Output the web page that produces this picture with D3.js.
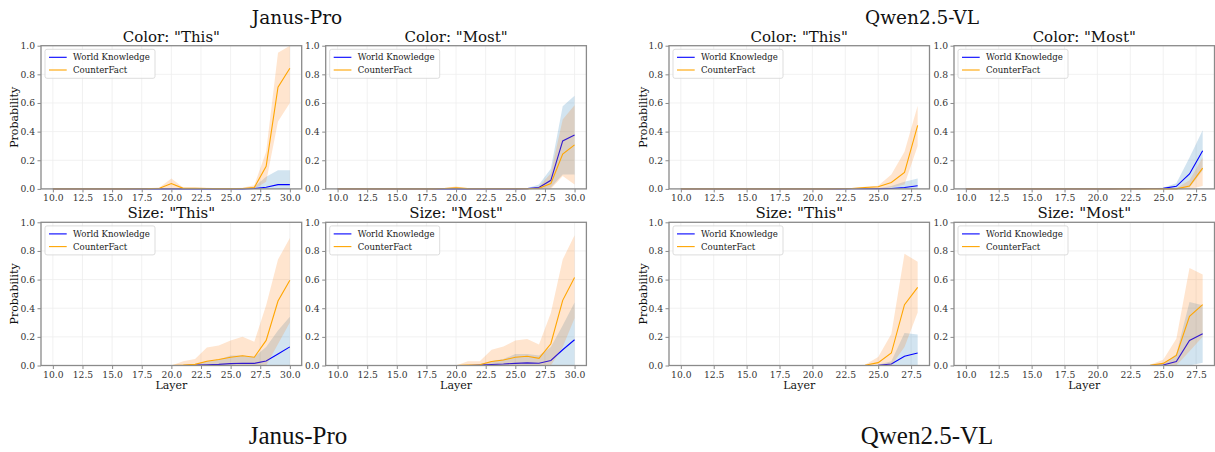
<!DOCTYPE html>
<html>
<head>
<meta charset="utf-8">
<script src="https://cdn.jsdelivr.net/npm/d3@7"></script>
<style>
  body { margin: 0; background: #fff; }
  svg text { font-family: "DejaVu Serif", serif; }
</style>
</head>
<body>
<script>
// ---- data ----
var layersJanus = [10,11,12,13,14,15,16,17,18,19,20,21,22,23,24,25,26,27,28,29,30];
var layersQwen  = [10,11,12,13,14,15,16,17,18,19,20,21,22,23,24,25,26,27,28];
var xTicksJanus = [10,12.5,15,17.5,20,22.5,25,27.5,30];
var xTicksQwen  = [10,12.5,15,17.5,20,22.5,25,27.5];
var yTicks = [0,0.2,0.4,0.6,0.8,1.0];
var modelNames = ["Janus-Pro", "Qwen2.5-VL"];
var panelTitles = ['Color: "This"', 'Color: "Most"', 'Size: "This"', 'Size: "Most"'];
var seriesNames = ["World Knowledge", "CounterFact"];

// Janus-Pro, Color "This"
var jColorThisWK   = [0,0,0,0,0,0,0,0,0,0,0,0,0,0,0,0,0,0.003,0.012,0.03,0.03];
var jColorThisWKLo = [0,0,0,0,0,0,0,0,0,0,0,0,0,0,0,0,0,0,0,0,0];
var jColorThisWKHi = [0,0,0,0,0,0,0,0,0,0,0,0,0,0,0,0,0.002,0.015,0.085,0.13,0.13];
var jColorThisCF   = [0,0,0,0,0,0,0,0.001,0.002,0.005,0.037,0.004,0.004,0.003,0.002,0.002,0.003,0.01,0.158,0.71,0.842];
var jColorThisCFLo = [0,0,0,0,0,0,0,0,0,0,0,0,0,0,0,0,0,0,0.05,0.47,0.6];
var jColorThisCFHi = [0,0,0,0,0,0,0,0.003,0.005,0.01,0.072,0.01,0.01,0.008,0.005,0.005,0.008,0.025,0.26,0.95,1.0];
// Janus-Pro, Color "Most"
var jColorMostWK   = [0,0,0,0,0,0,0,0,0,0,0,0,0,0,0,0,0.002,0.01,0.06,0.335,0.376];
var jColorMostWKLo = [0,0,0,0,0,0,0,0,0,0,0,0,0,0,0,0,0,0,0.01,0.1,0.1];
var jColorMostWKHi = [0,0,0,0,0,0,0,0,0,0,0,0,0,0,0,0,0.005,0.03,0.14,0.577,0.65];
var jColorMostCF   = [0,0,0,0,0,0,0,0,0,0.003,0.008,0.002,0.001,0.001,0.001,0.001,0.001,0.005,0.037,0.243,0.307];
var jColorMostCFLo = [0,0,0,0,0,0,0,0,0,0,0,0,0,0,0,0,0,0,0,0.09,0.03];
var jColorMostCFHi = [0,0,0,0,0,0,0,0,0,0.006,0.016,0.005,0.003,0.003,0.003,0.003,0.003,0.015,0.11,0.485,0.585];
// Janus-Pro, Size "This"
var jSizeThisWK   = [0,0,0,0,0,0,0,0,0,0,0,0,0.003,0.005,0.008,0.013,0.016,0.015,0.032,0.08,0.13];
var jSizeThisWKLo = [0,0,0,0,0,0,0,0,0,0,0,0,0,0,0,0,0,0,0,0,0];
var jSizeThisWKHi = [0,0,0,0,0,0,0,0,0,0,0,0,0.01,0.03,0.04,0.07,0.07,0.06,0.13,0.245,0.34];
var jSizeThisCF   = [0,0,0,0,0,0,0,0,0,0,0,0.003,0.008,0.03,0.042,0.058,0.068,0.058,0.175,0.45,0.596];
var jSizeThisCFLo = [0,0,0,0,0,0,0,0,0,0,0,0,0,0,0,0,0,0,0,0.15,0.3];
var jSizeThisCFHi = [0,0,0,0,0,0,0,0,0,0,0,0.03,0.045,0.125,0.14,0.175,0.2,0.165,0.42,0.74,0.89];
// Janus-Pro, Size "Most"
var jSizeMostWK   = [0,0,0,0,0,0,0,0,0,0,0,0,0.003,0.007,0.01,0.015,0.018,0.016,0.035,0.11,0.18];
var jSizeMostWKLo = [0,0,0,0,0,0,0,0,0,0,0,0,0,0,0,0,0,0,0,0,0];
var jSizeMostWKHi = [0,0,0,0,0,0,0,0,0,0,0,0,0.01,0.03,0.045,0.08,0.08,0.07,0.13,0.28,0.44];
var jSizeMostCF   = [0,0,0,0,0,0,0,0,0,0,0,0.003,0.005,0.028,0.038,0.058,0.065,0.05,0.152,0.455,0.615];
var jSizeMostCFLo = [0,0,0,0,0,0,0,0,0,0,0,0,0,0,0,0,0,0,0,0.13,0.33];
var jSizeMostCFHi = [0,0,0,0,0,0,0,0,0,0,0,0.03,0.03,0.11,0.133,0.175,0.185,0.147,0.367,0.74,0.91];

// Qwen2.5-VL, Color "This"
var qColorThisWK   = [0,0,0,0,0,0,0,0,0,0,0,0,0,0.001,0.001,0.002,0.003,0.01,0.022];
var qColorThisWKLo = [0,0,0,0,0,0,0,0,0,0,0,0,0,0,0,0,0,0,0];
var qColorThisWKHi = [0,0,0,0,0,0,0,0,0,0,0,0,0,0,0,0.005,0.02,0.05,0.072];
var qColorThisCF   = [0,0,0,0,0,0,0,0,0,0,0,0,0.001,0.003,0.01,0.015,0.045,0.115,0.443];
var qColorThisCFLo = [0,0,0,0,0,0,0,0,0,0,0,0,0,0,0,0,0.01,0.03,0.3];
var qColorThisCFHi = [0,0,0,0,0,0,0,0,0,0,0,0,0.003,0.006,0.015,0.022,0.1,0.26,0.58];
// Qwen2.5-VL, Color "Most"
var qColorMostWK   = [0,0,0,0,0,0,0,0,0,0,0,0,0.001,0.002,0.003,0.004,0.018,0.104,0.266];
var qColorMostWKLo = [0,0,0,0,0,0,0,0,0,0,0,0,0,0,0,0,0,0.01,0.13];
var qColorMostWKHi = [0,0,0,0,0,0,0,0,0,0,0,0,0,0.004,0.005,0.008,0.04,0.22,0.41];
var qColorMostCF   = [0,0,0,0,0,0,0,0,0,0,0,0,0,0,0,0,0,0.02,0.145];
var qColorMostCFLo = [0,0,0,0,0,0,0,0,0,0,0,0,0,0,0,0,0,0,0.02];
var qColorMostCFHi = [0,0,0,0,0,0,0,0,0,0,0,0,0,0,0,0,0.005,0.06,0.22];
// Qwen2.5-VL, Size "This"
var qSizeThisWK   = [0,0,0,0,0,0,0,0,0,0,0,0,0,0,0,0.002,0.01,0.065,0.087];
var qSizeThisWKLo = [0,0,0,0,0,0,0,0,0,0,0,0,0,0,0,0,0,0,0];
var qSizeThisWKHi = [0,0,0,0,0,0,0,0,0,0,0,0,0,0,0,0.005,0.03,0.227,0.217];
var qSizeThisCF   = [0,0,0,0,0,0,0,0,0,0,0,0,0,0,0.002,0.02,0.087,0.425,0.545];
var qSizeThisCFLo = [0,0,0,0,0,0,0,0,0,0,0,0,0,0,0,0,0,0.13,0.37];
var qSizeThisCFHi = [0,0,0,0,0,0,0,0,0,0,0,0,0,0,0.005,0.06,0.22,0.78,0.725];
// Qwen2.5-VL, Size "Most"
var qSizeMostWK   = [0,0,0,0,0,0,0,0,0,0,0,0,0,0,0,0.003,0.028,0.175,0.222];
var qSizeMostWKLo = [0,0,0,0,0,0,0,0,0,0,0,0,0,0,0,0,0,0,0.02];
var qSizeMostWKHi = [0,0,0,0,0,0,0,0,0,0,0,0,0,0,0,0.01,0.08,0.444,0.42];
var qSizeMostCF   = [0,0,0,0,0,0,0,0,0,0,0,0,0,0,0.002,0.015,0.07,0.343,0.425];
var qSizeMostCFLo = [0,0,0,0,0,0,0,0,0,0,0,0,0,0,0,0,0,0.1,0.2];
var qSizeMostCFHi = [0,0,0,0,0,0,0,0,0,0,0,0,0,0,0.005,0.04,0.187,0.68,0.635];

// ---- layout ----
var W = 1215, H = 452;
var lineColors = ["blue", "orange"];
var bandColors = ["#1f77b4", "#ff7f0e"];
var spineColor = "#8a8a8a";

var groups = [
  { name: modelNames[0], layers: layersJanus, ticks: xTicksJanus, xdom: [9, 31],
    cols: [41, 325.7], w: 260.7, titleX: 297, ylabX: 14, capX: 298,
    panels: [
      [[jColorThisWK, jColorThisWKLo, jColorThisWKHi], [jColorThisCF, jColorThisCFLo, jColorThisCFHi]],
      [[jColorMostWK, jColorMostWKLo, jColorMostWKHi], [jColorMostCF, jColorMostCFLo, jColorMostCFHi]],
      [[jSizeThisWK, jSizeThisWKLo, jSizeThisWKHi], [jSizeThisCF, jSizeThisCFLo, jSizeThisCFHi]],
      [[jSizeMostWK, jSizeMostWKLo, jSizeMostWKHi], [jSizeMostCF, jSizeMostCFLo, jSizeMostCFHi]]
    ] },
  { name: modelNames[1], layers: layersQwen, ticks: xTicksQwen, xdom: [9.1, 28.9],
    cols: [669, 954], w: 260.5, titleX: 922, ylabX: 643, capX: 927,
    panels: [
      [[qColorThisWK, qColorThisWKLo, qColorThisWKHi], [qColorThisCF, qColorThisCFLo, qColorThisCFHi]],
      [[qColorMostWK, qColorMostWKLo, qColorMostWKHi], [qColorMostCF, qColorMostCFLo, qColorMostCFHi]],
      [[qSizeThisWK, qSizeThisWKLo, qSizeThisWKHi], [qSizeThisCF, qSizeThisCFLo, qSizeThisCFHi]],
      [[qSizeMostWK, qSizeMostWKLo, qSizeMostWKHi], [qSizeMostCF, qSizeMostCFLo, qSizeMostCFHi]]
    ] }
];
var rows = [45.7, 222.3];
var ph = 143.2;

var svg = d3.select("body").append("svg").attr("width", W).attr("height", H);

groups.forEach(function(g) {
  // model name above
  svg.append("text").attr("x", g.titleX).attr("y", 24)
    .attr("text-anchor", "middle").attr("font-size", "18.5px").attr("fill", "#111")
    .text(g.name);
  // caption below
  svg.append("text").attr("x", g.capX).attr("y", 444)
    .attr("text-anchor", "middle").attr("font-size", "25px").attr("fill", "#111")
    .style("font-family", "'Liberation Serif', serif")
    .text(g.name);

  g.panels.forEach(function(series, pi) {
    var col = pi % 2, row = Math.floor(pi / 2);
    var x0 = g.cols[col], y0 = rows[row];
    var x = d3.scaleLinear().domain(g.xdom).range([0, g.w]);
    var y = d3.scaleLinear().domain([0, 1]).range([ph, 0]);
    var p = svg.append("g").attr("transform", "translate(" + x0 + "," + y0 + ")");

    // grid
    p.selectAll("line.gx").data(g.ticks).enter().append("line")
      .attr("x1", function(d) { return x(d); }).attr("x2", function(d) { return x(d); })
      .attr("y1", 0).attr("y2", ph).attr("stroke", "#eeeeee").attr("stroke-width", 0.8);
    p.selectAll("line.gy").data(yTicks).enter().append("line")
      .attr("x1", 0).attr("x2", g.w)
      .attr("y1", function(d) { return y(d); }).attr("y2", function(d) { return y(d); })
      .attr("stroke", "#eeeeee").attr("stroke-width", 0.8);

    // bands + lines
    series.forEach(function(s, si) {
      var pts = g.layers.map(function(l, i) { return { l: l, m: s[0][i], lo: s[1][i], hi: s[2][i] }; });
      var area = d3.area().x(function(d) { return x(d.l); })
        .y0(function(d) { return y(d.lo); }).y1(function(d) { return y(d.hi); });
      p.append("path").datum(pts).attr("d", area)
        .attr("fill", bandColors[si]).attr("fill-opacity", 0.2);
      var line = d3.line().x(function(d) { return x(d.l); }).y(function(d) { return y(d.m); });
      p.append("path").datum(pts).attr("d", line)
        .attr("fill", "none").attr("stroke", lineColors[si]).attr("stroke-width", 1.1);
    });

    // axes
    var ax = p.append("g").attr("transform", "translate(0," + ph + ")")
      .call(d3.axisBottom(x).tickValues(g.ticks).tickFormat(d3.format(".1f")).tickSize(3.5).tickPadding(2.5));
    var ay = p.append("g")
      .call(d3.axisLeft(y).tickValues(yTicks).tickFormat(d3.format(".1f")).tickSize(3.5).tickPadding(2.5));
    [ax, ay].forEach(function(a) {
      a.select(".domain").remove();
      a.selectAll(".tick line").attr("stroke", spineColor);
      a.selectAll(".tick text").attr("fill", "#333").style("font-family", "'DejaVu Serif', serif").style("font-size", "9.2px");
    });

    // spines
    p.append("rect").attr("x", 0).attr("y", 0).attr("width", g.w).attr("height", ph)
      .attr("fill", "none").attr("stroke", spineColor).attr("stroke-width", 1.3);

    // title
    p.append("text").attr("x", g.w / 2).attr("y", -4).attr("text-anchor", "middle")
      .attr("font-size", "15px").attr("fill", "#111").text(panelTitles[pi]);

    // legend
    var lg = p.append("g").attr("transform", "translate(4,3.6)");
    lg.append("rect").attr("width", 110).attr("height", 29).attr("rx", 2)
      .attr("fill", "#fff").attr("fill-opacity", 0.8).attr("stroke", "#d4d4d4").attr("stroke-width", 0.8);
    seriesNames.forEach(function(n, i) {
      var yy = 8 + i * 12.7;
      lg.append("line").attr("x1", 4).attr("x2", 21.7).attr("y1", yy).attr("y2", yy)
        .attr("stroke", lineColors[i]).attr("stroke-width", 1.1);
      lg.append("text").attr("x", 28).attr("y", yy + 3).attr("font-size", "8.6px").attr("fill", "#222").text(n);
    });

    // axis labels
    if (col === 0) {
      svg.append("text").attr("transform", "translate(" + (g.ylabX + 4) + "," + (y0 + ph / 2) + ") rotate(-90)")
        .attr("text-anchor", "middle").attr("font-size", "11px").attr("fill", "#111").text("Probability");
    }
    if (row === 1) {
      p.append("text").attr("x", g.w / 2).attr("y", ph + 24).attr("text-anchor", "middle")
        .attr("font-size", "11px").attr("fill", "#111").text("Layer");
    }
  });
});
</script>
</body>
</html>
